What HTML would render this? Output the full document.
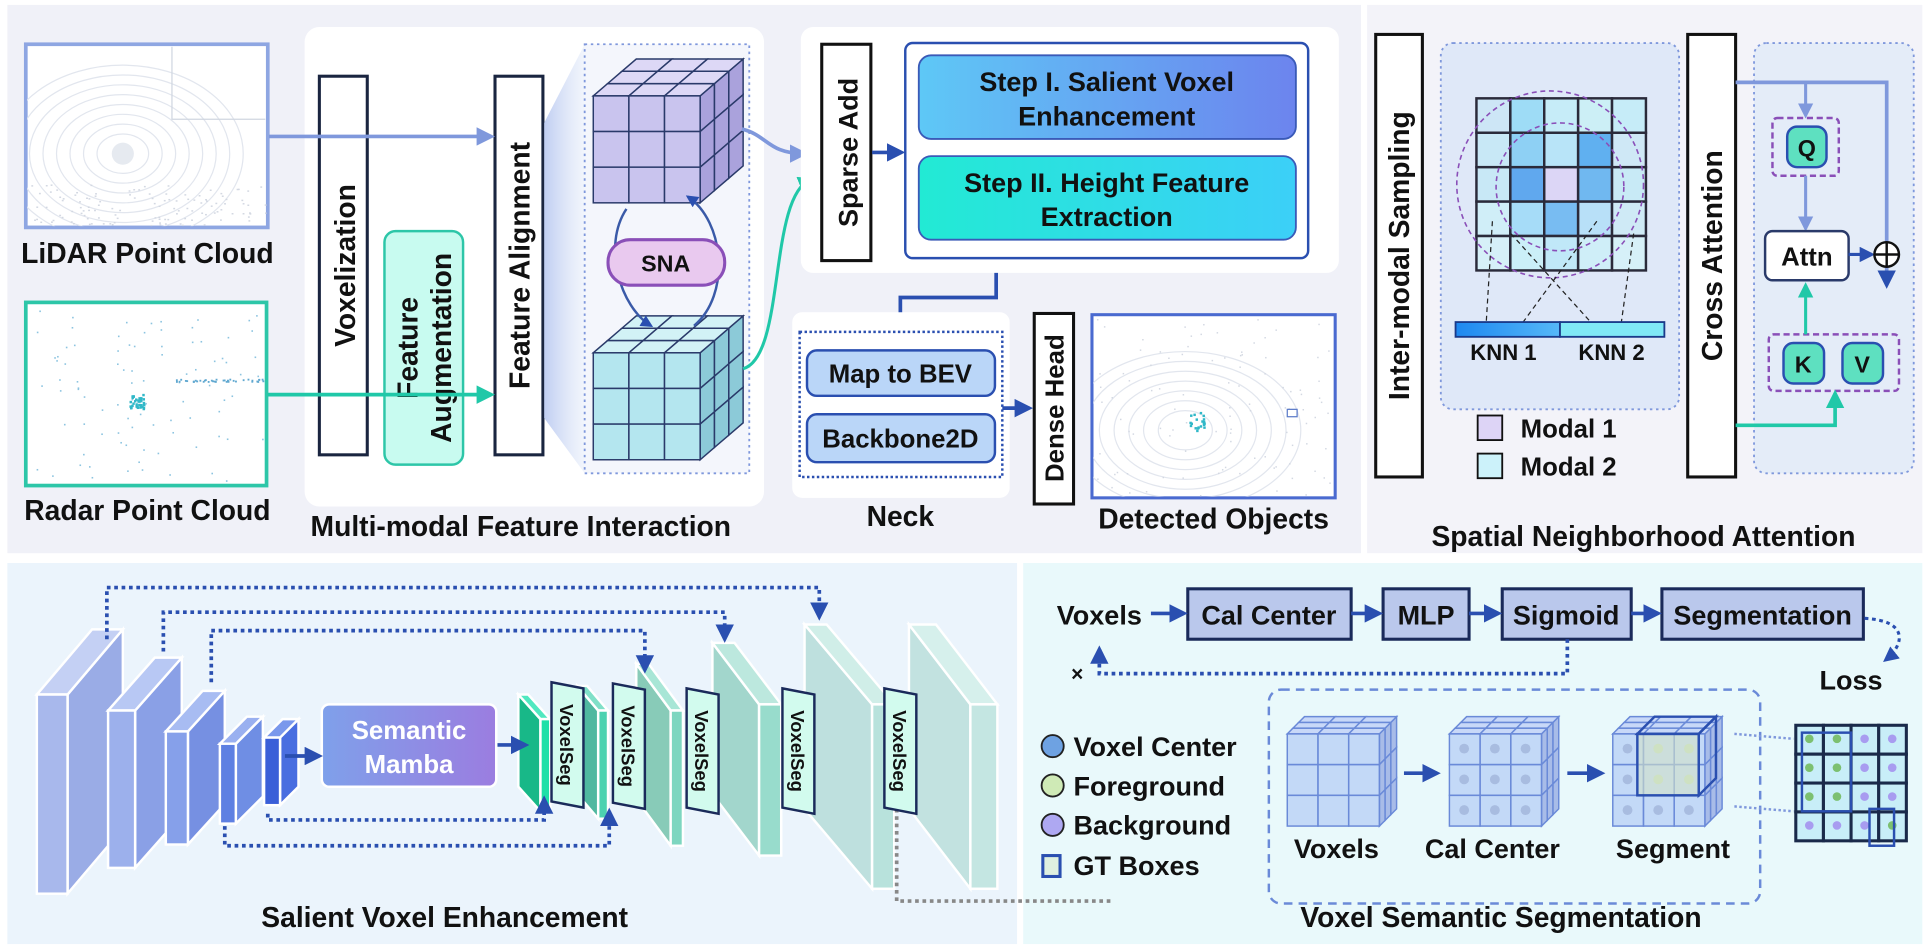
<!DOCTYPE html>
<html><head><meta charset="utf-8">
<style>
html,body{margin:0;padding:0;background:#fff;width:1926px;height:949px;overflow:hidden}
svg text{font-family:"Liberation Sans",Arial,sans-serif;font-weight:bold;fill:#111}
</style></head><body>
<svg id="s" width="1926" height="949" viewBox="0 0 1568 772" preserveAspectRatio="none" xmlns="http://www.w3.org/2000/svg">
<defs>
<marker id="ab" viewBox="0 0 10 10" refX="8" refY="5" markerWidth="5" markerHeight="5" orient="auto"><path d="M0,0L10,5L0,10z" fill="#2a4fb0"/></marker>
<marker id="al" viewBox="0 0 10 10" refX="8" refY="5" markerWidth="5" markerHeight="5" orient="auto"><path d="M0,0L10,5L0,10z" fill="#7f98dc"/></marker>
<marker id="at" viewBox="0 0 10 10" refX="8" refY="5" markerWidth="5" markerHeight="5" orient="auto"><path d="M0,0L10,5L0,10z" fill="#20c8a8"/></marker>
<linearGradient id="g1" x1="0" x2="1"><stop offset="0" stop-color="#5ec8f6"/><stop offset="1" stop-color="#6c84ee"/></linearGradient>
<linearGradient id="g2" x1="0" x2="1"><stop offset="0" stop-color="#22ead4"/><stop offset="1" stop-color="#3ccff8"/></linearGradient>
<linearGradient id="gm" x1="0" x2="1"><stop offset="0" stop-color="#7fa0ea"/><stop offset="1" stop-color="#9b7de0"/></linearGradient>
<linearGradient id="gk" x1="0" x2="1"><stop offset="0" stop-color="#1e88f0"/><stop offset="1" stop-color="#55b8f8"/></linearGradient>
<linearGradient id="gw" x1="0" x2="1"><stop offset="0" stop-color="#b8c8f0" stop-opacity=".9"/><stop offset="1" stop-color="#dde6f8" stop-opacity=".4"/></linearGradient>
<clipPath id="c1"><rect x="22" y="37" width="195" height="147"/></clipPath>
<clipPath id="c2"><rect x="22" y="247" width="194" height="147"/></clipPath>
<clipPath id="c3"><rect x="890" y="257" width="196" height="147"/></clipPath>
</defs>
<rect x="6" y="4" width="1102" height="446" fill="#f0f1f8"/>
<rect x="1113" y="4" width="452" height="446" fill="#f3f3f9"/>
<rect x="6" y="458" width="822" height="310" fill="#ebf4fc"/>
<rect x="833" y="458" width="732" height="310" fill="#e9f9fb"/>

<rect x="21" y="36" width="197" height="149" fill="#fff" stroke="#8ea6e2" stroke-width="3"/>
<rect x="21" y="246" width="196" height="149" fill="#fff" stroke="#2dc6a8" stroke-width="3"/>
<g id="lidar" clip-path="url(#c1)"></g>
<g id="radar" clip-path="url(#c2)"></g>
<text x="120" y="214" font-size="23" text-anchor="middle">LiDAR Point Cloud</text>
<text x="120" y="423" font-size="23" text-anchor="middle">Radar Point Cloud</text>

<rect x="248" y="22" width="374" height="390" rx="12" fill="#fff"/>
<text x="424" y="436" font-size="23" text-anchor="middle">Multi-modal Feature Interaction</text>
<rect x="260" y="62" width="39" height="308" fill="#fff" stroke="#1a2540" stroke-width="2.5"/>
<text transform="translate(289,216) rotate(-90)" font-size="23" text-anchor="middle">Voxelization</text>
<rect x="313" y="188" width="64" height="190" rx="9" fill="#c8fbf0" stroke="#2dc6a8" stroke-width="2"/>
<text transform="translate(340,283) rotate(-90)" font-size="23" text-anchor="middle">Feature</text>
<text transform="translate(367,283) rotate(-90)" font-size="23" text-anchor="middle">Augmentation</text>
<rect x="403" y="62" width="39" height="308" fill="#fff" stroke="#1a2540" stroke-width="2.5"/>
<text transform="translate(431,216) rotate(-90)" font-size="23" text-anchor="middle">Feature Alignment</text>
<line x1="219" y1="111" x2="400" y2="111" stroke="#7f98dc" stroke-width="3" marker-end="url(#al)"/>
<line x1="218" y1="321" x2="400" y2="321" stroke="#20c8a8" stroke-width="3" marker-end="url(#at)"/>
<polygon points="443,100 476,36 476,385 443,340" fill="url(#gw)"/>
<rect x="476" y="36" width="134" height="349" fill="#f4f6fc" stroke="#7f98dc" stroke-width="1.5" stroke-dasharray="2,3"/>
<g id="cubes"></g>
<path d="M510,170 C490,200 505,250 530,265" fill="none" stroke="#3a5aa8" stroke-width="2" marker-end="url(#ab)"/>
<path d="M565,265 C595,240 590,180 560,160" fill="none" stroke="#3a5aa8" stroke-width="2" marker-end="url(#ab)"/>
<rect x="495" y="195" width="95" height="37" rx="18" fill="#e9c9ef" stroke="#8a4fb8" stroke-width="2.5"/>
<text x="542" y="221" font-size="19" text-anchor="middle">SNA</text>
<path d="M604,105 C625,110 625,125 655,125" fill="none" stroke="#7f98dc" stroke-width="3" marker-end="url(#al)"/>
<path d="M605,300 C640,290 625,160 660,146" fill="none" stroke="#20c8a8" stroke-width="2.5" marker-end="url(#at)"/>

<rect x="652" y="22" width="438" height="200" rx="10" fill="#fff"/>
<rect x="669" y="36" width="40" height="176" fill="#fff" stroke="#111" stroke-width="2.5"/>
<text transform="translate(698,124) rotate(-90)" font-size="22" text-anchor="middle">Sparse Add</text>
<line x1="710" y1="124" x2="734" y2="124" stroke="#2a4fb0" stroke-width="3" marker-end="url(#ab)"/>
<rect x="737" y="35" width="328" height="175" rx="6" fill="#fff" stroke="#2a4fb0" stroke-width="2"/>
<rect x="748" y="45" width="307" height="68" rx="10" fill="url(#g1)" stroke="#3a5ab8" stroke-width="1.5"/>
<text x="901" y="74" font-size="22" text-anchor="middle">Step I. Salient Voxel</text>
<text x="901" y="102" font-size="22" text-anchor="middle">Enhancement</text>
<rect x="748" y="127" width="307" height="68" rx="10" fill="url(#g2)" stroke="#3a5ab8" stroke-width="1.5"/>
<text x="901" y="156" font-size="22" text-anchor="middle">Step II. Height Feature</text>
<text x="901" y="184" font-size="22" text-anchor="middle">Extraction</text>
<polyline points="811,222 811,242 733,242 733,268" fill="none" stroke="#2a4fb0" stroke-width="3" marker-end="url(#ab)"/>

<rect x="645" y="254" width="177" height="151" rx="8" fill="#fff"/>
<rect x="651" y="270" width="165" height="118" fill="none" stroke="#2a4fb0" stroke-width="2" stroke-dasharray="2,2"/>
<rect x="657" y="285" width="153" height="37" rx="8" fill="#bad6f8" stroke="#2a4fb0" stroke-width="2"/>
<text x="733" y="311" font-size="21" text-anchor="middle">Map to BEV</text>
<rect x="657" y="337" width="153" height="39" rx="8" fill="#bad6f8" stroke="#2a4fb0" stroke-width="2"/>
<text x="733" y="364" font-size="21" text-anchor="middle">Backbone2D</text>
<text x="733" y="428" font-size="23" text-anchor="middle">Neck</text>
<line x1="816" y1="332" x2="838" y2="332" stroke="#2a4fb0" stroke-width="3" marker-end="url(#ab)"/>
<rect x="842" y="255" width="32" height="155" fill="#fff" stroke="#111" stroke-width="2.5"/>
<text transform="translate(866,332) rotate(-90)" font-size="21" text-anchor="middle">Dense Head</text>
<rect x="889" y="256" width="198" height="149" fill="#fff" stroke="#4a6ad0" stroke-width="2.5"/>
<g id="det" clip-path="url(#c3)"></g>
<text x="988" y="430" font-size="23" text-anchor="middle">Detected Objects</text>

<rect x="1120" y="28" width="38" height="360" fill="#fff" stroke="#111" stroke-width="2.5"/>
<text transform="translate(1147,208) rotate(-90)" font-size="23" text-anchor="middle">Inter-modal Sampling</text>
<rect x="1173" y="35" width="194" height="298" rx="10" fill="#dfe8f8" stroke="#7f98dc" stroke-width="1.5" stroke-dasharray="2,3"/>
<g id="grid"></g>
<circle cx="1262" cy="150" r="76" fill="none" stroke="#8a4fb8" stroke-width="1.3" stroke-dasharray="4,3"/>
<circle cx="1270" cy="152" r="52" fill="none" stroke="#8a4fb8" stroke-width="1.3" stroke-dasharray="4,3"/>
<g stroke="#222" stroke-width="1" stroke-dasharray="4,3"><line x1="1215" y1="180" x2="1210" y2="262"/><line x1="1230" y1="190" x2="1295" y2="262"/><line x1="1300" y1="180" x2="1240" y2="262"/><line x1="1330" y1="190" x2="1320" y2="262"/></g>
<rect x="1185" y="262" width="85" height="12" fill="url(#gk)" stroke="#1a3a8a" stroke-width="1.5"/>
<rect x="1270" y="262" width="85" height="12" fill="#80e8f6" stroke="#1a3a8a" stroke-width="1.5"/>
<text x="1224" y="293" font-size="18" text-anchor="middle">KNN 1</text>
<text x="1312" y="293" font-size="18" text-anchor="middle">KNN 2</text>
<rect x="1203" y="338" width="20" height="20" fill="#ddd4f6" stroke="#111" stroke-width="1.5"/>
<text x="1238" y="356" font-size="21">Modal 1</text>
<rect x="1203" y="369" width="20" height="20" fill="#ccf2fa" stroke="#111" stroke-width="1.5"/>
<text x="1238" y="387" font-size="21">Modal 2</text>
<text x="1338" y="444" font-size="23" text-anchor="middle">Spatial Neighborhood Attention</text>

<rect x="1374" y="28" width="39" height="360" fill="#fff" stroke="#111" stroke-width="2.5"/>
<text transform="translate(1402,208) rotate(-90)" font-size="23" text-anchor="middle">Cross Attention</text>
<rect x="1428" y="35" width="130" height="350" rx="10" fill="#e4ecf8" stroke="#7f98dc" stroke-width="1.5" stroke-dasharray="2,3"/>
<polyline points="1413,67 1536,67 1536,232" fill="none" stroke="#7f98dc" stroke-width="3" marker-end="url(#ab)"/>
<line x1="1470" y1="67" x2="1470" y2="94" stroke="#7f98dc" stroke-width="2.5" marker-end="url(#al)"/>
<rect x="1443" y="96" width="54" height="47" rx="4" fill="none" stroke="#8a4fb8" stroke-width="2" stroke-dasharray="5,3"/>
<rect x="1455" y="103" width="32" height="33" rx="8" fill="#5ee0c0" stroke="#2a4fb0" stroke-width="2"/>
<text x="1471" y="127" font-size="19" text-anchor="middle">Q</text>
<line x1="1470" y1="143" x2="1470" y2="186" stroke="#7f98dc" stroke-width="2.5" marker-end="url(#al)"/>
<rect x="1437" y="188" width="68" height="40" rx="6" fill="#fff" stroke="#2a3a6a" stroke-width="2"/>
<text x="1471" y="216" font-size="21" text-anchor="middle">Attn</text>
<line x1="1505" y1="207" x2="1524" y2="207" stroke="#2a4fb0" stroke-width="2.5" marker-end="url(#ab)"/>
<circle cx="1536" cy="207" r="10" fill="#fff" stroke="#111" stroke-width="2"/>
<line x1="1526" y1="207" x2="1546" y2="207" stroke="#111" stroke-width="2"/><line x1="1536" y1="197" x2="1536" y2="217" stroke="#111" stroke-width="2"/>
<rect x="1440" y="272" width="106" height="46" rx="4" fill="none" stroke="#8a4fb8" stroke-width="2" stroke-dasharray="5,3"/>
<rect x="1452" y="279" width="33" height="33" rx="8" fill="#5ee0c0" stroke="#2a4fb0" stroke-width="2"/>
<text x="1468" y="303" font-size="19" text-anchor="middle">K</text>
<rect x="1500" y="279" width="33" height="33" rx="8" fill="#5ee0c0" stroke="#2a4fb0" stroke-width="2"/>
<text x="1516" y="303" font-size="19" text-anchor="middle">V</text>
<line x1="1470" y1="272" x2="1470" y2="232" stroke="#20c8a8" stroke-width="2.5" marker-end="url(#at)"/>
<polyline points="1413,346 1494,346 1494,320" fill="none" stroke="#20c8a8" stroke-width="3" marker-end="url(#at)"/>

<g id="slabs"></g>
<g fill="none" stroke="#2a4fb0" stroke-width="3" stroke-dasharray="3,3">
<polyline points="87,520 87,478 667,478 667,502" marker-end="url(#ab)"/>
<polyline points="133,530 133,498 590,498 590,520" marker-end="url(#ab)"/>
<polyline points="172,555 172,513 525,513 525,545" marker-end="url(#ab)"/>
<polyline points="218,662 218,667 443,667 443,650" marker-end="url(#ab)"/>
<polyline points="183,672 183,688 496,688 496,660" marker-end="url(#ab)"/>
</g>
<polyline points="730,652 730,733 905,733" fill="none" stroke="#888" stroke-width="3" stroke-dasharray="3,3"/>
<rect x="262" y="573" width="142" height="67" rx="6" fill="url(#gm)" stroke="#fff" stroke-width="2"/>
<text x="333" y="601" font-size="21" text-anchor="middle" style="fill:#fff">Semantic</text>
<text x="333" y="629" font-size="21" text-anchor="middle" style="fill:#fff">Mamba</text>
<line x1="232" y1="615" x2="260" y2="615" stroke="#2a4fb0" stroke-width="3" marker-end="url(#ab)"/>
<line x1="405" y1="606" x2="428" y2="606" stroke="#2a4fb0" stroke-width="3" marker-end="url(#ab)"/>
<g id="vseg"></g>
<text x="362" y="754" font-size="23" text-anchor="middle">Salient Voxel Enhancement</text>

<text x="895" y="508" font-size="22" text-anchor="middle">Voxels</text>
<g fill="#bac8ec" stroke="#1a2a5a" stroke-width="2.5">
<rect x="967" y="479" width="133" height="41"/><rect x="1126" y="479" width="70" height="41"/><rect x="1223" y="479" width="105" height="41"/><rect x="1353" y="479" width="164" height="41"/></g>
<text x="1033" y="508" font-size="22" text-anchor="middle">Cal Center</text>
<text x="1161" y="508" font-size="22" text-anchor="middle">MLP</text>
<text x="1275" y="508" font-size="22" text-anchor="middle">Sigmoid</text>
<text x="1435" y="508" font-size="22" text-anchor="middle">Segmentation</text>
<g stroke="#2a4fb0" stroke-width="3" marker-end="url(#ab)"><line x1="937" y1="499" x2="964" y2="499"/><line x1="1100" y1="499" x2="1123" y2="499"/><line x1="1196" y1="499" x2="1220" y2="499"/><line x1="1328" y1="499" x2="1350" y2="499"/></g>
<path d="M1518,503 C1555,505 1550,525 1535,537" fill="none" stroke="#2a4fb0" stroke-width="2.5" stroke-dasharray="3,3" marker-end="url(#ab)"/>
<text x="1507" y="561" font-size="22" text-anchor="middle">Loss</text>
<polyline points="1276,520 1276,548 895,548 895,528" fill="none" stroke="#2a4fb0" stroke-width="3" stroke-dasharray="3,3" marker-end="url(#ab)"/>
<text x="877" y="554" font-size="17" text-anchor="middle" font-weight="normal">×</text>
<rect x="1033" y="561" width="400" height="174" rx="10" fill="none" stroke="#6a8ad8" stroke-width="2" stroke-dasharray="7,5"/>
<g id="smallcubes"></g>
<g stroke="#2a4fb0" stroke-width="3" marker-end="url(#ab)"><line x1="1143" y1="629" x2="1170" y2="629"/><line x1="1276" y1="629" x2="1304" y2="629"/></g>
<text x="1088" y="698" font-size="22" text-anchor="middle">Voxels</text>
<text x="1215" y="698" font-size="22" text-anchor="middle">Cal Center</text>
<text x="1362" y="698" font-size="22" text-anchor="middle">Segment</text>
<circle cx="857" cy="607" r="9" fill="#6ea2e2" stroke="#222" stroke-width="1.5"/><text x="874" y="615" font-size="22">Voxel Center</text>
<circle cx="857" cy="639" r="9" fill="#cfeab6" stroke="#222" stroke-width="1.5"/><text x="874" y="647" font-size="22">Foreground</text>
<circle cx="857" cy="671" r="9" fill="#aea8f2" stroke="#222" stroke-width="1.5"/><text x="874" y="679" font-size="22">Background</text>
<rect x="849" y="696" width="14" height="17" fill="#dff0e0" stroke="#2a4fb0" stroke-width="2.5"/><text x="874" y="712" font-size="22">GT Boxes</text>
<g stroke="#7f98dc" stroke-width="2" stroke-dasharray="2,2"><line x1="1412" y1="597" x2="1460" y2="601"/><line x1="1412" y1="656" x2="1460" y2="660"/></g>
<g id="segGrid"></g>
<text x="1222" y="754" font-size="23" text-anchor="middle">Voxel Semantic Segmentation</text>
</svg>
<script>
var NS="http://www.w3.org/2000/svg";
function el(p,t,a){var e=document.createElementNS(NS,t);for(var k in a)e.setAttribute(k,a[k]);p.appendChild(e);return e;}
(function(){var g=document.getElementById('lidar');var r=1;function rnd(){r=(r*9301+49297)%233280;return r/233280;}
for(var k=1;k<9;k++)el(g,'ellipse',{cx:100,cy:125,rx:10+k*11,ry:8+k*8,fill:'none',stroke:'#e2e6ee','stroke-width':1});
el(g,'circle',{cx:100,cy:125,r:9,fill:'#e6eaf0'});
el(g,'polyline',{points:'140,38 140,97 216,97',fill:'none',stroke:'#d0d6e0','stroke-width':1});
for(var i=0;i<120;i++){el(g,'rect',{x:23+rnd()*193,y:150+rnd()*33,width:1.5,height:1.2,fill:'#d3d8e2'});}
var rg=document.getElementById('radar');
for(var i=0;i<90;i++){el(rg,'rect',{x:25+rnd()*190,y:250+rnd()*142,width:1.3,height:1.3,fill:'#8cc4e0'});}
for(var i=0;i<40;i++){el(rg,'rect',{x:140+rnd()*75,y:308+rnd()*2,width:1.5,height:1.5,fill:'#60a8d0'});}
for(var i=0;i<35;i++){el(rg,'rect',{x:105+rnd()*12,y:320+rnd()*12,width:2,height:2,fill:'#30b8c8'});}
var dg=document.getElementById('det');
for(var k=1;k<8;k++)el(dg,'ellipse',{cx:965,cy:350,rx:10+k*12,ry:8+k*8,fill:'none',stroke:'#e2e6ee','stroke-width':1});
for(var i=0;i<100;i++){el(dg,'rect',{x:891+rnd()*194,y:258+rnd()*145,width:1.2,height:1.2,fill:'#d3d8e2'});}
for(var i=0;i<20;i++){el(dg,'rect',{x:968+rnd()*12,y:335+rnd()*15,width:2,height:2,fill:'#30b8c8'});}
el(dg,'rect',{x:1048,y:333,width:8,height:6,fill:'none',stroke:'#5a7ac8','stroke-width':1});
})();
function cube(g,x,y,s,dx,dy,cf,ct,cs,st,sw){
 for(var i=0;i<3;i++)for(var j=0;j<3;j++){
  el(g,'polygon',{points:(x+i*s+j*dx/3)+','+(y-j*dy/3)+' '+(x+(i+1)*s+j*dx/3)+','+(y-j*dy/3)+' '+(x+(i+1)*s+(j+1)*dx/3)+','+(y-(j+1)*dy/3)+' '+(x+i*s+(j+1)*dx/3)+','+(y-(j+1)*dy/3),fill:ct,stroke:st,'stroke-width':sw});
  el(g,'polygon',{points:(x+3*s+j*dx/3)+','+(y+i*s-j*dy/3)+' '+(x+3*s+(j+1)*dx/3)+','+(y+i*s-(j+1)*dy/3)+' '+(x+3*s+(j+1)*dx/3)+','+(y+(i+1)*s-(j+1)*dy/3)+' '+(x+3*s+j*dx/3)+','+(y+(i+1)*s-j*dy/3),fill:cs,stroke:st,'stroke-width':sw});
  el(g,'rect',{x:x+i*s,y:y+j*s,width:s,height:s,fill:cf,stroke:st,'stroke-width':sw});
 }}
var cg=document.getElementById('cubes');
cube(cg,483,78,29,35,30,'#c9c4ee','#ddd8f6','#aaa2dc','#2a3a6a',1.2);
cube(cg,483,287,29,35,30,'#b4e6ef','#d2f2f6','#8ccad8','#2a3a6a',1.2);
var sc=document.getElementById('smallcubes');
[1048,1180,1313].forEach(function(x,k){cube(sc,x,597,25,14,14,'rgba(170,195,245,.6)','#c8d8f8','#a8bce8','#6a8ad8',1.2);
 if(k>0)for(var i=0;i<3;i++)for(var j=0;j<3;j++)el(sc,'circle',{cx:x+12+i*25,cy:609+j*25,r:4,fill:k==2&&i>0&&j<2?'#c8e0b8':'#a8bce0'});});
el(sc,'rect',{x:1333,y:597,width:50,height:50,fill:'rgba(210,225,200,.6)',stroke:'#2a4fb0','stroke-width':2});
el(sc,'polygon',{points:'1333,597 1383,597 1397,583 1347,583',fill:'none',stroke:'#2a4fb0','stroke-width':2});
el(sc,'polygon',{points:'1383,597 1397,583 1397,633 1383,647',fill:'none',stroke:'#2a4fb0','stroke-width':2});
var gg=document.getElementById('grid');
var cols=[['#cde6f6','#9edcf6','#c6ecf8','#cceff6','#c6ecf8'],['#c8e8f6','#8ed0f4','#b8e4f8','#60b0f0','#cfe8f6'],['#c8e8f6','#60a8ee','#dcd6f6','#70b8f0','#c8eaf6'],['#d0eef8','#a6dcf8','#78bcf2','#b8e0f8','#cfeaf6'],['#d6f0f8','#cbeff8','#c0e8f8','#cfeef8','#d6f0f8']];
for(var r=0;r<5;r++)for(var c=0;c<5;c++)el(gg,'rect',{x:1202+c*27.6,y:80+r*28,width:27.6,height:28,fill:cols[r][c],stroke:'#2a2a3a','stroke-width':2});
var sl=document.getElementById('slabs');
function slabE(xf,yf,fw,fh,dx,dy,cf,cs,ct){
 el(sl,'polygon',{points:(xf+fw)+','+yf+' '+(xf+fw+dx)+','+(yf-dy)+' '+(xf+fw+dx)+','+(yf-dy+fh)+' '+(xf+fw)+','+(yf+fh),fill:cs,stroke:'#fff','stroke-width':2});
 el(sl,'polygon',{points:xf+','+yf+' '+(xf+fw)+','+yf+' '+(xf+fw+dx)+','+(yf-dy)+' '+(xf+dx)+','+(yf-dy),fill:ct,stroke:'#fff','stroke-width':2});
 el(sl,'rect',{x:xf,y:yf,width:fw,height:fh,fill:cf,stroke:'#fff','stroke-width':2});}
slabE(30,565,25,162,45,53,'#a8b8ec','#9aace6','#c4d0f4');
slabE(88,578,22,128,38,43,'#9cb0ec','#8aa0e6','#b8c8f4');
slabE(135,595,18,92,30,33,'#86a0ea','#7690e2','#a8bcf2');
slabE(179,605,13,65,22,22,'#5e80e2','#6f8ee4','#9ab0f0');
slabE(215,600,13,55,15,15,'#3a5fd8','#4a6ee0','#7a98ec');
function slabD(xl,yt,dx,dy,fw,fh,cf,cs,ct){
 el(sl,'polygon',{points:xl+','+yt+' '+(xl+dx)+','+(yt+dy)+' '+(xl+dx)+','+(yt+dy+fh)+' '+xl+','+(yt+fh),fill:cs,stroke:'#fff','stroke-width':2});
 el(sl,'polygon',{points:xl+','+yt+' '+(xl+fw)+','+yt+' '+(xl+dx+fw)+','+(yt+dy)+' '+(xl+dx)+','+(yt+dy),fill:ct,stroke:'#fff','stroke-width':2});
 el(sl,'rect',{x:xl+dx,y:yt+dy,width:fw,height:fh,fill:cf,stroke:'#fff','stroke-width':2});}
slabD(740,508,50,65,22,150,'#c4e6e2','#c2e2e0','#d6f0ec');
slabD(655,508,55,65,18,150,'#b8e2dc','#bee0de','#d0eee8');
slabD(580,523,38,50,18,123,'#98dccc','#a2d6cc','#bce8de');
slabD(518,540,28,38,10,110,'#7ed6c0','#88cbb8','#a8e6d6');
slabD(470,558,17,20,8,88,'#4cd2b0','#50b8a0','#80e0c8');
slabD(422,565,18,20,8,75,'#1ee0a8','#18b888','#50e8c0');
var vs=document.getElementById('vseg');
[[449,555],[499,556],[559,560],[637,560],[720,560]].forEach(function(p){
 el(vs,'polygon',{points:p[0]+','+p[1]+' '+(p[0]+26)+','+(p[1]+5)+' '+(p[0]+26)+','+(p[1]+102)+' '+p[0]+','+(p[1]+97),fill:'#d2fbee',stroke:'#1a2a5a','stroke-width':2});
 var t=el(vs,'text',{transform:'translate('+(p[0]+7)+','+(p[1]+51)+') rotate(90)','font-size':'15','text-anchor':'middle'});t.textContent='VoxelSeg';});
var sg=document.getElementById('segGrid');
for(var r=0;r<4;r++)for(var c=0;c<4;c++){el(sg,'rect',{x:1462+c*22.5,y:590+r*23.5,width:22.5,height:23.5,fill:'#c8eef8',stroke:'#1a2a4a','stroke-width':2.5});
 el(sg,'circle',{cx:1473+c*22.5,cy:601+r*23.5,r:3.5,fill:(c<2&&r<3)||(c==3&&r==3)?'#7cc070':'#a89cf0'});}
el(sg,'rect',{x:1467,y:596,width:40,height:64,fill:'none',stroke:'#2a4fb0','stroke-width':2});
el(sg,'rect',{x:1522,y:658,width:20,height:30,fill:'none',stroke:'#2a4fb0','stroke-width':2});
</script>
</body></html>
